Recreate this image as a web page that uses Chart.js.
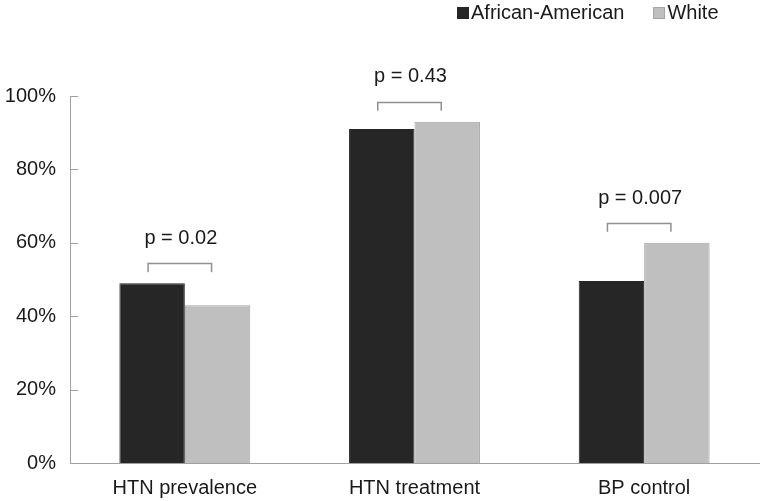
<!DOCTYPE html>
<html>
<head>
<meta charset="utf-8">
<script src="https://cdn.jsdelivr.net/npm/chart.js@4"></script>
<style>
  html, body { margin:0; padding:0; background:#fff; }
  #wrap { position:relative; width:762px; height:501px; }
  #legend { position:absolute; top:1px; left:457px; font:20px "Liberation Sans", Arial, sans-serif; color:#1a1a1a; white-space:nowrap; }
  #legend span.box { display:inline-block; width:12px; height:12px; margin-right:2px; vertical-align:0px; box-sizing:border-box; }
  #legend span.item { margin-right:29px; }
</style>
</head>
<body>
<div id="wrap">
  <canvas id="c" width="762" height="501"></canvas>
  <div id="legend"></div>
</div>
<script>
/* data */
const categories = ['HTN prevalence', 'HTN treatment', 'BP control'];
const aaValues = [49, 91, 49.6];
const whiteValues = [43, 93, 60];
const pLabels = ['p = 0.02', 'p = 0.43', 'p = 0.007'];
const yTicks = [0, 20, 40, 60, 80, 100];

const FONT = '"Liberation Sans", Arial, sans-serif';
const TEXT = '#1a1a1a';
const AXIS = '#a0a0a0';

/* ---------- legend (html) ---------- */
const series = [
  { label: 'African-American', color: '#262626', border: '#262626' },
  { label: 'White', color: '#bfbfbf', border: '#a6a6a6' }
];
document.getElementById('legend').innerHTML = series.map(s =>
  `<span class="item"><span class="box" style="background:${s.color};border:1px solid ${s.border}"></span>${s.label}</span>`
).join('');

/* ---------- inward ticks + p-value brackets ---------- */
const extras = {
  id: 'extras',
  afterDraw(chart){
    const ctx = chart.ctx, y = chart.scales.y;
    const left = chart.chartArea.left;
    ctx.save();
    ctx.strokeStyle = AXIS; ctx.lineWidth = 1;
    yTicks.forEach(v => {
      const py = Math.round(y.getPixelForValue(v)) + 0.5;
      ctx.beginPath(); ctx.moveTo(left, py); ctx.lineTo(left + 8, py); ctx.stroke();
    });
    const m0 = chart.getDatasetMeta(0), m1 = chart.getDatasetMeta(1);
    ctx.strokeStyle = '#909090'; ctx.lineWidth = 1.5;
    ctx.fillStyle = TEXT; ctx.font = '20px ' + FONT;
    ctx.textAlign = 'center'; ctx.textBaseline = 'middle';
    categories.forEach((c, i) => {
      const x0 = m0.data[i].x - 4, x1 = m1.data[i].x - 6;
      const top = Math.max(aaValues[i], whiteValues[i]) + 5.5;
      const yt = Math.round(y.getPixelForValue(top)) + 0.5;
      const yl = y.getPixelForValue(top - 2.5);
      ctx.beginPath();
      ctx.moveTo(x0, yl); ctx.lineTo(x0, yt); ctx.lineTo(x1, yt); ctx.lineTo(x1, yl);
      ctx.stroke();
      ctx.fillText(pLabels[i], (x0 + x1) / 2 + 1, y.getPixelForValue(top + 6.7));
    });
    ctx.restore();
  }
};

new Chart(document.getElementById('c'), {
  type: 'bar',
  data: {
    labels: categories,
    datasets: [
      { label: series[0].label, data: aaValues, backgroundColor: series[0].color, borderColor: series[0].border, borderWidth: 1 },
      { label: series[1].label, data: whiteValues, backgroundColor: series[1].color, borderColor: series[1].border, borderWidth: 1 }
    ]
  },
  options: {
    responsive: false,
    animation: false,
    layout: { padding: { top: 96, right: 3, left: 0, bottom: 0 } },
    datasets: { bar: { categoryPercentage: 0.57, barPercentage: 1 } },
    scales: {
      x: {
        grid: { display: false, drawTicks: false },
        border: { display: true, color: AXIS, width: 1 },
        ticks: { color: TEXT, font: { family: FONT, size: 20 }, padding: 13 },
        afterFit(s){ s.height = 38; }
      },
      y: {
        min: 0, max: 100,
        afterBuildTicks(s){ s.ticks = yTicks.map(v => ({ value: v })); },
        grid: { display: false, drawTicks: false },
        border: { display: true, color: AXIS, width: 1 },
        ticks: { color: TEXT, font: { family: FONT, size: 20 }, padding: 14, callback: v => v + '%' },
        afterFit(s){ s.width = 70; }
      }
    },
    plugins: { legend: { display: false }, tooltip: { enabled: false } }
  },
  plugins: [extras]
});
</script>
</body>
</html>
